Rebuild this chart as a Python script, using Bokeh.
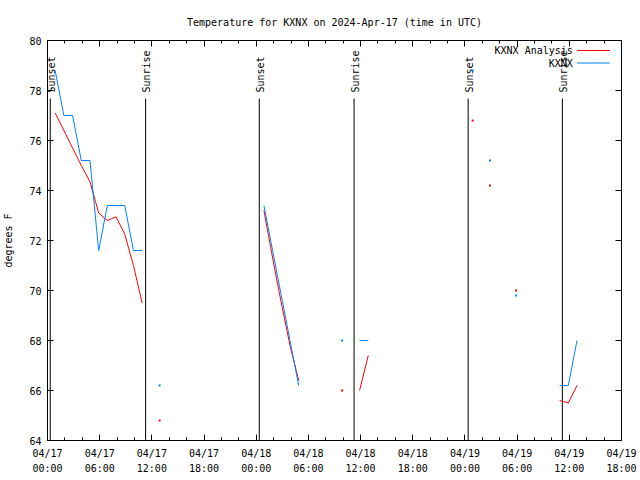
import math
import numpy as np
import pandas as pd
from bokeh.plotting import figure
from bokeh.models import (Range1d, FixedTicker, DatetimeTickFormatter,
                          DatetimeAxis, LinearAxis)
from bokeh.core.properties import value
from bokeh.embed import file_html
from bokeh.resources import INLINE

# ---------------- data ----------------
TITLE = "Temperature for KXNX on 2024-Apr-17 (time in UTC)"
Y_LABEL = "degrees F"
SERIES_NAMES = ["KXNX Analysis", "KXNX"]

obs_times = [
    "2024-04-17 00:53", "2024-04-17 01:53", "2024-04-17 02:53", "2024-04-17 03:53",
    "2024-04-17 04:53", "2024-04-17 05:53", "2024-04-17 06:53", "2024-04-17 07:53",
    "2024-04-17 08:53", "2024-04-17 09:53", "2024-04-17 10:53", "2024-04-17 12:53",
    "2024-04-18 00:53", "2024-04-18 01:53", "2024-04-18 02:53", "2024-04-18 03:53",
    "2024-04-18 04:53", "2024-04-18 09:53", "2024-04-18 11:53", "2024-04-18 12:53",
    "2024-04-19 00:53", "2024-04-19 02:53", "2024-04-19 05:53", "2024-04-19 10:53",
    "2024-04-19 11:53", "2024-04-19 12:53",
]
kxnx_temp = [
    78.8, 77.0, 77.0, 75.2, 75.2, 71.6, 73.4, 73.4, 73.4, 71.6, 71.6, 66.2,
    73.4, 71.6, 69.8, 68.0, 66.2, 68.0, 68.0, 68.0,
    78.8, 75.2, 69.8, 66.2, 66.2, 68.0,
]
kxnx_analysis = [
    77.1, 76.4, 75.7, 75.0, 74.35, 73.1, 72.8, 72.95, 72.25, 71.0, 69.5, 64.8,
    73.2, 71.3, 69.5, 67.8, 66.4, 66.0, 66.0, 67.4,
    76.8, 74.2, 70.0, 65.6, 65.5, 66.2,
]

sunset_times = ["2024-04-17 00:19", "2024-04-18 00:21", "2024-04-19 00:22"]
sunrise_times = ["2024-04-17 11:17", "2024-04-18 11:15", "2024-04-19 11:12"]

x_start = "2024-04-17 00:00"
x_end = "2024-04-19 18:00"
y_min, y_max = 64, 80
y_ticks = [64, 66, 68, 70, 72, 74, 76, 78, 80]

# ---------------- style ----------------
FONT = "DejaVu Sans Mono"
FS = "10px"
RED = "#ff0000"
BLUE = "#0080ff"

t_obs = pd.to_datetime(obs_times)
t_start = pd.Timestamp(x_start)
t_end = pd.Timestamp(x_end)


def ms(ts):
    return (pd.Timestamp(ts) - pd.Timestamp("1970-01-01")) / pd.Timedelta(milliseconds=1)


def with_gaps(times, vals, max_gap=pd.Timedelta(hours=1.5)):
    xs, ys, iso_x, iso_y = [], [], [], []
    n = len(times)
    for i in range(n):
        if i > 0 and times[i] - times[i - 1] > max_gap:
            xs.append(times[i - 1] + (times[i] - times[i - 1]) / 2)
            ys.append(np.nan)
        xs.append(times[i])
        ys.append(vals[i])
        left_ok = i > 0 and times[i] - times[i - 1] <= max_gap
        right_ok = i < n - 1 and times[i + 1] - times[i] <= max_gap
        if not left_ok and not right_ok:
            iso_x.append(times[i])
            iso_y.append(vals[i])
    return xs, ys, iso_x, iso_y


p = figure(width=640, height=480, x_axis_type="datetime",
           x_range=Range1d(start=t_start, end=t_end),
           y_range=Range1d(start=y_min, end=y_max),
           output_backend="svg", toolbar_location=None,
           min_border_left=46, min_border_right=19,
           min_border_top=40, min_border_bottom=40,
           title=TITLE)
p.background_fill_color = "white"
p.border_fill_color = "white"
p.outline_line_color = "black"
p.outline_line_width = 1
p.outline_line_alpha = 1
p.grid.grid_line_color = None

p.title.align = "center"
p.title.text_font = FONT
p.title.text_font_size = FS
p.title.text_font_style = "normal"
p.title.text_color = "black"
p.title.standoff = 25

major_ticks = [ms(t) for t in pd.date_range(t_start, t_end, freq="6h")]
minor_ticks = [ms(t) for t in pd.date_range(t_start, t_end, freq="2h")]
fmt = "%m/%d\n%H:%M"
xfmt = DatetimeTickFormatter(milliseconds=fmt, seconds=fmt, minsec=fmt, minutes=fmt,
                             hourmin=fmt, hours=fmt, days=fmt, months=fmt, years=fmt)
xticker = FixedTicker(ticks=major_ticks, minor_ticks=minor_ticks)
yticker = FixedTicker(ticks=y_ticks)

xa = p.xaxis[0]
xa.ticker = xticker
xa.formatter = xfmt
ya = p.yaxis[0]
ya.ticker = yticker
ya.axis_label = Y_LABEL

for ax in (xa, ya):
    ax.axis_line_color = None
    ax.major_tick_in = 6
    ax.major_tick_out = 0
    ax.minor_tick_in = 3
    ax.minor_tick_out = 0
    ax.major_tick_line_color = "black"
    ax.minor_tick_line_color = "black"
    ax.major_label_text_font = FONT
    ax.major_label_text_font_size = FS
    ax.major_label_text_color = "black"
    ax.axis_label_text_font = FONT
    ax.axis_label_text_font_size = FS
    ax.axis_label_text_font_style = "normal"
    ax.axis_label_text_color = "black"
xa.major_label_standoff = 7
xa.major_label_text_line_height = 1.45
ya.major_label_standoff = 6
ya.axis_label_standoff = 12

# mirrored tick marks on top and right (no labels)
top = DatetimeAxis(ticker=xticker, formatter=xfmt)
right = LinearAxis(ticker=yticker)
for ax in (top, right):
    ax.axis_line_color = None
    ax.major_tick_in = 6
    ax.major_tick_out = 0
    ax.minor_tick_in = 3
    ax.minor_tick_out = 0
    ax.major_label_text_font_size = "1px"
    ax.major_label_text_color = None
    ax.major_label_standoff = 0
p.add_layout(top, "above")
p.add_layout(right, "right")

# sunrise / sunset markers
marker_line_top = y_max - 2.32
marker_text_y = y_max - 2.08
ev_times = list(pd.to_datetime(sunset_times)) + list(pd.to_datetime(sunrise_times))
ev_names = ["Sunset"] * len(sunset_times) + ["Sunrise"] * len(sunrise_times)
p.segment(x0=ev_times, y0=[y_min] * len(ev_times), x1=ev_times,
          y1=[marker_line_top] * len(ev_times), line_color="black", line_width=1)
p.text(x=ev_times, y=[marker_text_y] * len(ev_times), text=ev_names, angle=math.pi / 2,
       text_align="left", text_baseline="middle", x_offset=1,
       text_font=value(FONT), text_font_size=FS, text_color="black")

# data
for vals, color in ((kxnx_analysis, RED), (kxnx_temp, BLUE)):
    xs, ys, ix, iy = with_gaps(list(t_obs), vals)
    p.line(x=xs, y=ys, line_color=color, line_width=1)
    if ix:
        p.scatter(x=ix, y=iy, marker="square", size=2, fill_color=color,
                  line_color=None)

# legend (top right, label left of sample)
leg_text_x = t_end - pd.Timedelta(hours=5.6)
leg_x0 = t_end - pd.Timedelta(hours=5.1)
leg_x1 = t_end - pd.Timedelta(hours=1.35)
leg_y = [y_max - 0.4, y_max - 0.9]
p.text(x=[leg_text_x] * 2, y=leg_y, text=SERIES_NAMES, text_align="right",
       text_baseline="middle", text_font=value(FONT), text_font_size=FS,
       text_color="black")
p.segment(x0=[leg_x0] * 2, y0=leg_y, x1=[leg_x1] * 2, y1=leg_y,
          line_color=[RED, BLUE], line_width=1)

open("out.html", "w").write(file_html(p, INLINE))
